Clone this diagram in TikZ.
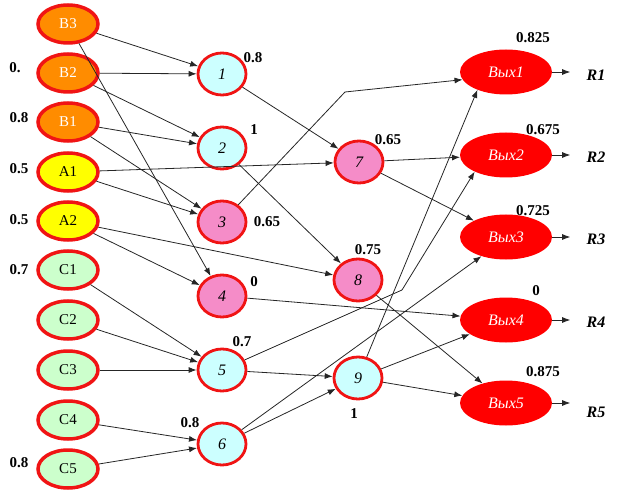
\documentclass[tikz,border=0pt]{standalone}
\usepackage{fontspec}
\setmainfont{Liberation Serif}
\usetikzlibrary{shapes.geometric,arrows.meta}
\definecolor{inorange}{RGB}{255,140,0}
\definecolor{inyellow}{RGB}{255,255,0}
\definecolor{ingreen}{RGB}{204,255,204}
\definecolor{midcyan}{RGB}{204,255,255}
\definecolor{midpink}{RGB}{245,140,200}
\definecolor{rborder}{RGB}{240,20,20}
\definecolor{outred}{RGB}{255,0,0}
\begin{document}
\begin{tikzpicture}[x=1pt,y=-1pt,
  inp/.style={ellipse,draw=rborder,line width=3.5pt,minimum width=60pt,minimum height=38pt,inner sep=0pt,font=\fontsize{15}{15}\selectfont},
  mid/.style={ellipse,draw=rborder,line width=2.8pt,minimum width=48pt,minimum height=42pt,inner sep=0pt,font=\fontsize{16}{16}\selectfont\itshape},
  outn/.style={ellipse,fill=outred,minimum width=92pt,minimum height=45pt,inner sep=0pt,text=white,font=\fontsize{16}{16}\selectfont\itshape},
  val/.style={font=\fontsize{15}{15}\selectfont\bfseries,inner sep=0pt},
  rl/.style={font=\fontsize{16}{16}\selectfont\bfseries\itshape,inner sep=0pt},
  conn/.style={draw=black!85,line width=0.8pt,-{Latex[length=8pt,width=6pt]}},
  plain/.style={draw=black!85,line width=0.8pt}]
\useasboundingbox (0,0) rectangle (619,492);
% inputs
\node[inp,fill=inorange,text=white] (B3) at (68,24) {B3};
\node[inp,fill=inorange,text=white] (B2) at (68,73) {B2};
\node[inp,fill=inorange,text=white] (B1) at (68,122) {B1};
\node[inp,fill=inyellow] (A1) at (68,172) {A1};
\node[inp,fill=inyellow] (A2) at (68,221) {A2};
\node[inp,fill=ingreen] (C1) at (68,270) {C1};
\node[inp,fill=ingreen] (C2) at (68,320) {C2};
\node[inp,fill=ingreen] (C3) at (68,370) {C3};
\node[inp,fill=ingreen] (C4) at (68,420) {C4};
\node[inp,fill=ingreen] (C5) at (68,469) {C5};
% middle
\node[mid,fill=midcyan] (n1) at (222,74) {1};
\node[mid,fill=midcyan] (n2) at (222,148) {2};
\node[mid,fill=midpink] (n3) at (222,222) {3};
\node[mid,fill=midpink] (n4) at (222,296) {4};
\node[mid,fill=midcyan] (n5) at (222,370) {5};
\node[mid,fill=midcyan] (n6) at (222,444) {6};
\node[mid,fill=midpink] (n7) at (359,162) {7};
\node[mid,fill=midpink] (n8) at (358,280) {8};
\node[mid,fill=midcyan] (n9) at (358,378) {9};
% outputs
\node[outn] (o1) at (506,72) {Вых1};
\node[outn] (o2) at (506,155) {Вых2};
\node[outn] (o3) at (506,237) {Вых3};
\node[outn] (o4) at (506,320) {Вых4};
\node[outn] (o5) at (506,403) {Вых5};
\node[rl] (r1) at (596,75) {R1};
\node[rl] (r2) at (596,157) {R2};
\node[rl] (r3) at (596,239) {R3};
\node[rl] (r4) at (596,322) {R4};
\node[rl] (r5) at (596,412) {R5};
\coordinate (k3) at (345,92);
\coordinate (k5) at (402,290);
% connectors layer 1
\draw[conn] (B3) -- (n1);
\draw[conn] (B3) -- (n4);
\draw[conn] (B2) -- (n1);
\draw[conn] (B2) -- (n2);
\draw[conn] (B1) -- (n2);
\draw[conn] (B1) -- (n3);
\draw[conn] (A1) -- (n7);
\draw[conn] (A1) -- (n3);
\draw[conn] (A2) -- (n8);
\draw[conn] (A2) -- (n4);
\draw[conn] (C1) -- (n5);
\draw[conn] (C2) -- (n5);
\draw[conn] (C3) -- (n5);
\draw[conn] (C4) -- (n6);
\draw[conn] (C5) -- (n6);
% layer 2
\draw[conn] (n1) -- (n7);
\draw[conn] (n2) -- (n8);
\draw[plain] (n3) -- (k3);
\draw[conn] (k3) -- (o1.190);
\draw[conn] (n4) -- (o4);
\draw[plain] (n5) -- (k5);
\draw[conn] (k5) -- (o2.208);
\draw[conn] (n5) -- (n9);
\draw[conn] (n6) -- (o3.218);
\draw[conn] (n6) -- (n9);
\draw[conn] (n7) -- (o2);
\draw[conn] (n7) -- (o3);
\draw[conn] (n8) -- (o5);
\draw[conn] (n9) -- (o1.212);
\draw[conn] (n9) -- (o4);
\draw[conn] (n9) -- (o5);
% outputs to R
\draw[conn] (o1.east) -- ++(18,0);
\draw[conn] (o2.east) -- ++(18,0);
\draw[conn] (o3.east) -- ++(18,0);
\draw[conn] (o4.east) -- ++(18,0);
\draw[conn] (o5.east) -- ++(18,0);
% values
\node[val] (v0) at (15,68) {0.};
\node[val] (v1) at (19,118) {0.8};
\node[val] (v2) at (19,169) {0.5};
\node[val] (v3) at (19,220) {0.5};
\node[val] (v4) at (19,270) {0.7};
\node[val] (v5) at (19,463) {0.8};
\node[val] (w1) at (253,58) {0.8};
\node[val] (w2) at (254,130) {1};
\node[val] (w3) at (267,222) {0.65};
\node[val] (w4) at (254,282) {0};
\node[val] (w5) at (242,342) {0.7};
\node[val] (w6) at (190,423) {0.8};
\node[val] (w7) at (388,140) {0.65};
\node[val] (w8) at (368,250) {0.75};
\node[val] (w9) at (354,414) {1};
\node[val] (x1) at (533,38) {0.825};
\node[val] (x2) at (543,130) {0.675};
\node[val] (x3) at (533,211) {0.725};
\node[val] (x4) at (536,291) {0};
\node[val] (x5) at (543,372) {0.875};
\end{tikzpicture}
\end{document}
